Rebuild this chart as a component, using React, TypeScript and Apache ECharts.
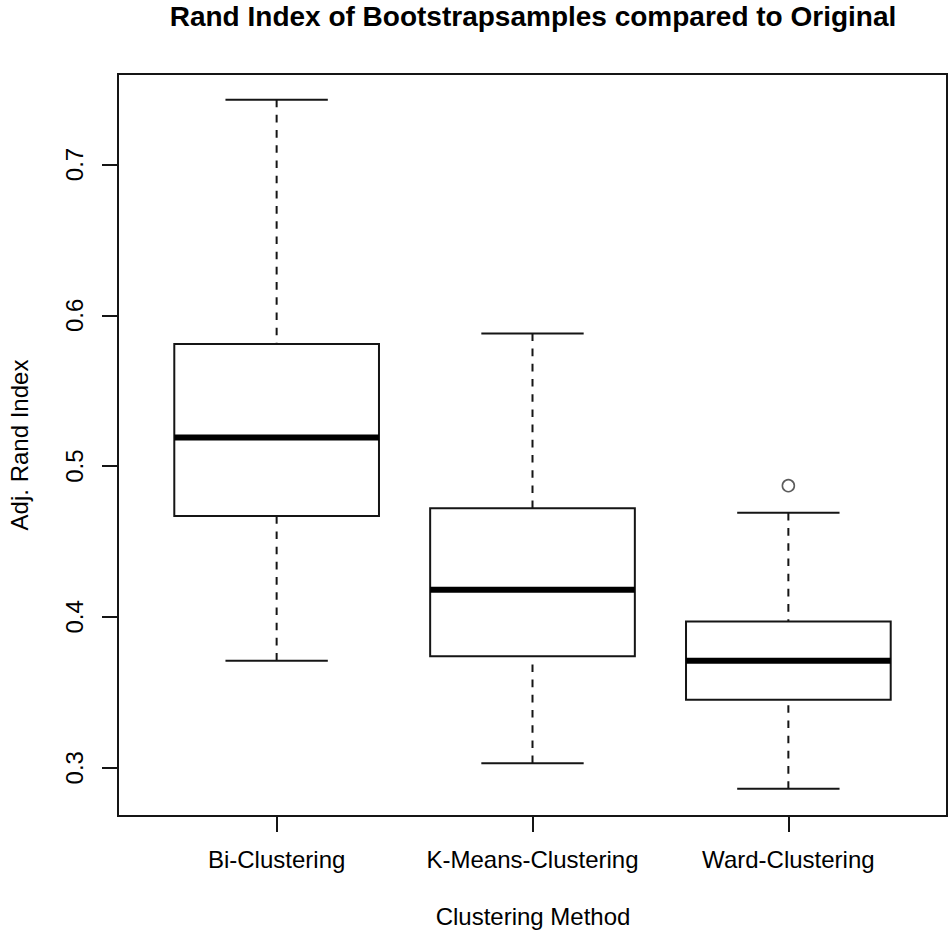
import React, { useEffect, useRef } from "react";
import * as echarts from "echarts";

const TITLE = "Rand Index of Bootstrapsamples compared to Original";
const X_TITLE = "Clustering Method";
const Y_TITLE = "Adj. Rand Index";

const categories = ["Bi-Clustering", "K-Means-Clustering", "Ward-Clustering"];
const whiskerLow = [0.371, 0.303, 0.286];
const quartile1 = [0.467, 0.374, 0.345];
const medians = [0.519, 0.418, 0.371];
const quartile3 = [0.581, 0.472, 0.397];
const whiskerHigh = [0.743, 0.588, 0.469];
const outlierCategory = [2];
const outlierValue = [0.487];
const yTicks = [0.3, 0.4, 0.5, 0.6, 0.7];

const FONT = "'Liberation Sans', Arial, Helvetica, sans-serif";
const INK = "#151515";

export default function App() {
  const ref = useRef<HTMLDivElement>(null);

  useEffect(() => {
    if (!ref.current) return;
    const chart = echarts.init(ref.current, null, { renderer: "svg" });

    const positions = categories.map((_, i) => i + 1);
    const boxData = categories.map((_, i) => [
      positions[i],
      whiskerLow[i],
      quartile1[i],
      medians[i],
      quartile3[i],
      whiskerHigh[i],
    ]);
    const outlierData = outlierCategory.map((c, i) => [positions[c], outlierValue[i]]);

    const BOX_HALF = 0.4;
    const CAP_HALF = 0.2;

    const option: any = {
      animation: false,
      backgroundColor: "#ffffff",
      textStyle: { fontFamily: FONT },
      grid: {
        left: 118,
        right: 1,
        top: 74,
        bottom: 116,
        show: true,
        borderColor: INK,
        borderWidth: 2,
        backgroundColor: "transparent",
      },
      xAxis: {
        type: "value",
        min: 0.38,
        max: 3.62,
        splitLine: { show: false },
        axisLine: { show: true, lineStyle: { color: INK, width: 2 } },
        axisTick: {
          show: true,
          inside: false,
          length: 16,
          customValues: positions,
          lineStyle: { color: INK, width: 2 },
        },
        axisLabel: {
          customValues: positions,
          formatter: (v: number) => categories[Math.round(v) - 1] ?? "",
          fontSize: 24,
          fontFamily: FONT,
          color: "#000",
          margin: 31,
        },
      },
      yAxis: {
        type: "value",
        min: 0.268,
        max: 0.76,
        splitLine: { show: false },
        axisLine: { show: true, lineStyle: { color: INK, width: 2 } },
        axisTick: {
          show: true,
          inside: false,
          length: 16,
          customValues: yTicks,
          lineStyle: { color: INK, width: 2 },
        },
        axisLabel: {
          customValues: yTicks,
          formatter: (v: number) => v.toFixed(1),
          rotate: 90,
          fontSize: 24,
          fontFamily: FONT,
          color: "#000",
          margin: 32,
        },
      },
      graphic: [
        {
          type: "text",
          x: 533,
          y: 16,
          style: {
            text: TITLE,
            fontSize: 28,
            fontWeight: "bold",
            fontFamily: FONT,
            fill: "#000",
            align: "center",
            verticalAlign: "middle",
          },
        },
        {
          type: "text",
          x: 533,
          y: 916,
          style: {
            text: X_TITLE,
            fontSize: 24,
            fontFamily: FONT,
            fill: "#000",
            align: "center",
            verticalAlign: "middle",
          },
        },
        {
          type: "text",
          x: 19,
          y: 445,
          rotation: Math.PI / 2,
          style: {
            text: Y_TITLE,
            fontSize: 24,
            fontFamily: FONT,
            fill: "#000",
            align: "center",
            verticalAlign: "middle",
          },
        },
      ],
      series: [
        {
          type: "custom",
          data: boxData,
          encode: { x: 0, y: [1, 2, 3, 4, 5] },
          renderItem: (params: any, api: any) => {
            const x = api.value(0);
            const lo = api.value(1);
            const a = api.value(2);
            const m = api.value(3);
            const b = api.value(4);
            const hi = api.value(5);
            const [xl, yq1] = api.coord([x - BOX_HALF, a]);
            const [xr, yq3] = api.coord([x + BOX_HALF, b]);
            const [xc, yMed] = api.coord([x, m]);
            const [, yLo] = api.coord([x, lo]);
            const [, yHi] = api.coord([x, hi]);
            const [cl] = api.coord([x - CAP_HALF, m]);
            const [cr] = api.coord([x + CAP_HALF, m]);
            const solid = { stroke: INK, lineWidth: 2, fill: null };
            const dashed = { stroke: INK, lineWidth: 2, lineDash: [7.6, 7.6], fill: null };
            return {
              type: "group",
              children: [
                { type: "line", shape: { x1: xc, y1: yHi, x2: xc, y2: yq3 }, style: dashed },
                { type: "line", shape: { x1: xc, y1: yLo, x2: xc, y2: yq1 }, style: dashed },
                { type: "line", shape: { x1: cl, y1: yHi, x2: cr, y2: yHi }, style: solid },
                { type: "line", shape: { x1: cl, y1: yLo, x2: cr, y2: yLo }, style: solid },
                {
                  type: "rect",
                  shape: { x: xl, y: yq3, width: xr - xl, height: yq1 - yq3 },
                  style: { stroke: INK, lineWidth: 2, fill: "#ffffff" },
                },
                {
                  type: "line",
                  shape: { x1: xl, y1: yMed, x2: xr, y2: yMed },
                  style: { stroke: "#000", lineWidth: 6 },
                },
              ],
            };
          },
        },
        {
          type: "scatter",
          data: outlierData,
          symbol: "circle",
          symbolSize: 12,
          itemStyle: { color: "rgba(0,0,0,0)", borderColor: "#333", borderWidth: 1.6 },
        },
      ],
    };

    chart.setOption(option);
    return () => chart.dispose();
  }, []);

  return (
    <div
      ref={ref}
      style={{ position: "absolute", left: 0, top: 0, width: 948, height: 932 }}
    />
  );
}
